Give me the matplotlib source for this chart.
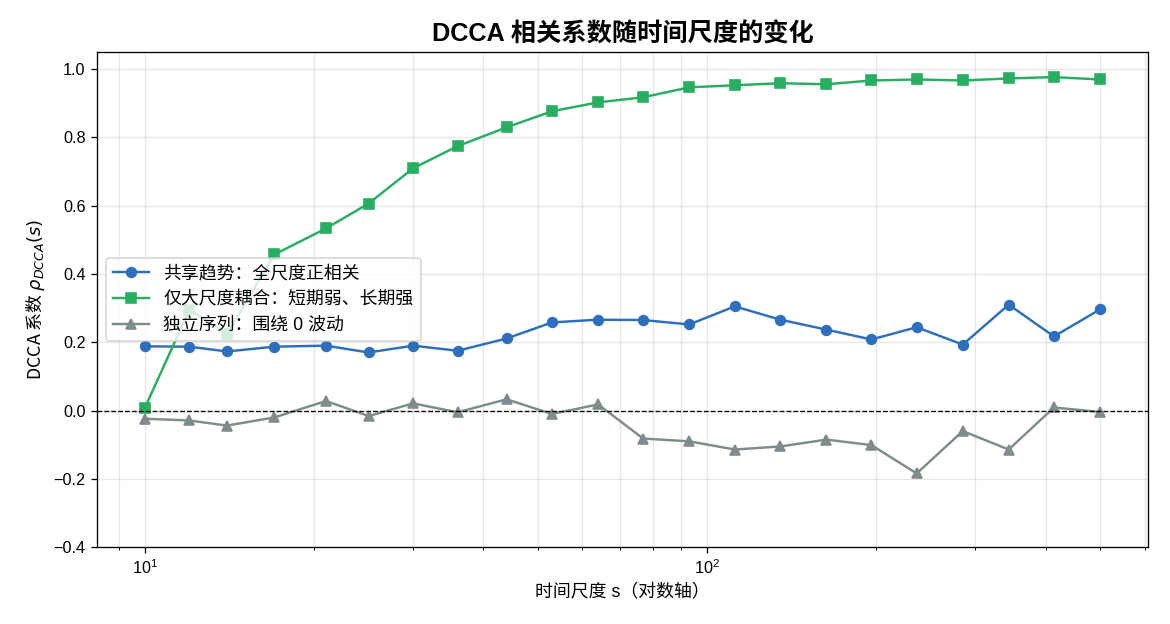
import matplotlib
matplotlib.use("Agg")
import matplotlib.pyplot as plt

plt.rcParams['font.family'] = ['Liberation Sans', 'Noto Sans CJK SC', 'DejaVu Sans']
plt.rcParams['axes.unicode_minus'] = True

# 时间尺度（对数轴）
scales = [10, 12, 14, 17, 21, 25, 30, 36, 44, 53, 64, 77, 93, 112, 135, 163, 196, 236, 285, 344, 414, 500]

# 三组 DCCA 系数
shared_trend = [0.188, 0.187, 0.173, 0.187, 0.190, 0.170, 0.190, 0.175, 0.211, 0.258, 0.266, 0.265,
                0.252, 0.305, 0.266, 0.237, 0.208, 0.244, 0.193, 0.310, 0.217, 0.296]
large_scale = [0.008, 0.295, 0.225, 0.457, 0.533, 0.606, 0.709, 0.774, 0.829, 0.876, 0.902, 0.917,
               0.946, 0.952, 0.958, 0.955, 0.966, 0.969, 0.966, 0.972, 0.976, 0.969]
independent = [-0.024, -0.029, -0.044, -0.020, 0.028, -0.016, 0.021, -0.005, 0.033, -0.010, 0.018, -0.082,
               -0.090, -0.114, -0.105, -0.085, -0.101, -0.184, -0.060, -0.114, 0.009, -0.004]

labels = ['共享趋势：全尺度正相关', '仅大尺度耦合：短期弱、长期强', '独立序列：围绕 0 波动']

fig, ax = plt.subplots(figsize=(10, 624 / 117), dpi=117)

ax.plot(scales, shared_trend, marker='o', color='#2e6fbd', lw=1.5, ms=6, label=labels[0])
ax.plot(scales, large_scale, marker='s', color='#27ae60', lw=1.5, ms=6, label=labels[1])
ax.plot(scales, independent, marker='^', color='#7f8c8d', lw=1.5, ms=6, label=labels[2])
ax.axhline(0, color='black', ls='--', lw=0.8)

ax.set_xscale('log')
ax.set_ylim(-0.4, 1.05)
ax.grid(True, which='both', alpha=0.3)

ax.set_title('DCCA 相关系数随时间尺度的变化', fontsize=15.5, fontweight='bold')
ax.set_xlabel('时间尺度 s（对数轴）', fontsize=11)
# mathtext 只用第一个字体，这里让中文字体排在前面
ax.set_ylabel(r'DCCA 系数 $\rho_{DCCA}(s)$', fontsize=11, family=['Noto Sans CJK SC', 'DejaVu Sans'])
ax.legend(loc='center left', fontsize=11)

fig.subplots_adjust(left=0.083, right=0.981, top=0.917, bottom=0.123)
fig.savefig('out.png', dpi=117)
